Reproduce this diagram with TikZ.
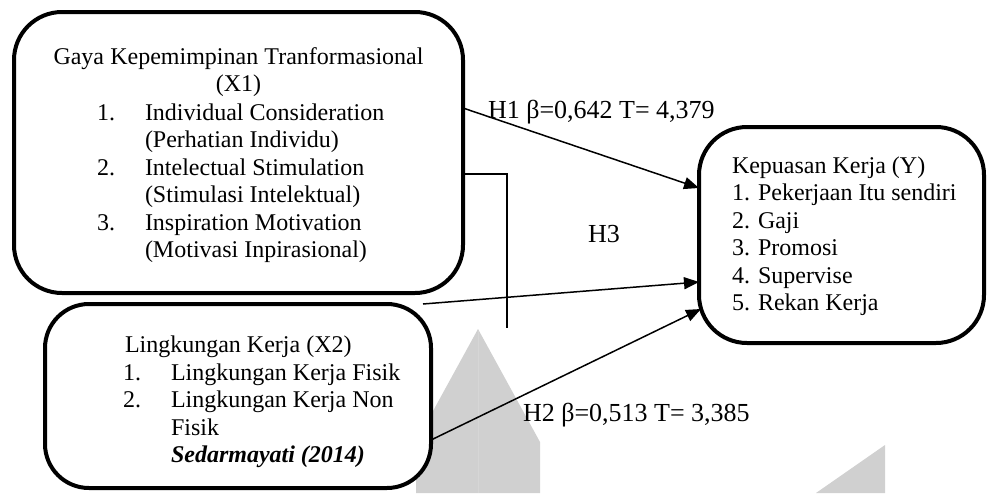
\documentclass[tikz,border=0pt]{standalone}
\usepackage{fontspec}
\setmainfont{Liberation Serif}
\usetikzlibrary{arrows.meta}
\definecolor{wmgray}{RGB}{208,208,208}
\newcommand{\numbx}[1]{\makebox[48pt][l]{#1}}
\begin{document}
\begin{tikzpicture}[x=1pt,y=-1pt,
  every node/.style={font=\fontsize{24}{27.5}\selectfont, inner sep=0pt, outer sep=0pt},
  varbox/.style={draw, line width=4pt, rounded corners=48pt, fill=white},
  hyplabel/.style={font=\fontsize{26}{30}\selectfont},
  link/.style={line width=1.5pt, -{Triangle[length=15pt,width=12pt]}},
  plain/.style={line width=1.5pt}
]
\useasboundingbox (0,0) rectangle (988,493);

% background logo fragments
\fill[wmgray] (478,329) -- (540,442) -- (540,493) -- (416,493) -- (416,442) -- cycle;
\draw[wmgray!88!white, line width=0.5pt] (478,331) -- (478,493);
\fill[wmgray] (885,445) -- (885,493) -- (816,493) -- cycle;

% variable boxes
\node[varbox, minimum width=449pt, minimum height=281pt] (x1) at (238.5,152.5) {};
\node[varbox, minimum width=386pt, minimum height=184pt, rounded corners=44pt] (x2) at (238,396) {};
\node[varbox, minimum width=285pt, minimum height=216pt] (y) at (841.5,235) {};

% box texts
\node[anchor=base] (x1title) at (238.5,64) {\begin{tabular}[t]{@{}c@{}}\makebox[370pt][s]{Gaya Kepemimpinan Tranformasional}\\(X1)\end{tabular}};
\node[anchor=base west] (x1items) at (97,120) {\begin{tabular}[t]{@{}l@{}}
\numbx{1.}Individual Consideration\\
\numbx{}(Perhatian Individu)\\
\numbx{2.}Intelectual Stimulation\\
\numbx{}(Stimulasi Intelektual)\\
\numbx{3.}Inspiration Motivation\\
\numbx{}(Motivasi Inpirasional)
\end{tabular}};

\node[anchor=base west] (x2title) at (125,352) {Lingkungan Kerja (X2)};
\node[anchor=base west] (x2items) at (123,380) {\begin{tabular}[t]{@{}l@{}}
\numbx{1.}Lingkungan Kerja Fisik\\
\numbx{2.}Lingkungan Kerja Non\\
\numbx{}Fisik\\
\numbx{}\textbf{\textit{Sedarmayati (2014)}}
\end{tabular}};

\node[anchor=base west] (ytext) at (732,173) {\begin{tabular}[t]{@{}l@{}}
Kepuasan Kerja (Y)\\
1. Pekerjaan Itu sendiri\\
2. Gaji\\
3. Promosi\\
4. Supervise\\
5. Rekan Kerja
\end{tabular}};

% hypothesis paths
\coordinate (h3end) at (507,328);
\draw[link] ([yshift=44.5pt]x1.east) -- ([yshift=47pt]y.west);
\draw[link] ([xshift=-8pt]x2.north east) -- ([yshift=-47pt]y.west);
\draw[link] ([yshift=-44pt]x2.east) -- ([xshift=2pt,yshift=-74pt]y.west);
\draw[plain] ([yshift=-21.5pt]x1.east) -| (h3end);

% hypothesis labels
\node[hyplabel, anchor=base west] (h1) at (488,118) {H1 β=0,642 T= 4,379};
\node[hyplabel, anchor=base] (h3) at (604,242) {H3};
\node[hyplabel, anchor=base west] (h2) at (523,421) {H2 β=0,513 T= 3,385};
\end{tikzpicture}
\end{document}
